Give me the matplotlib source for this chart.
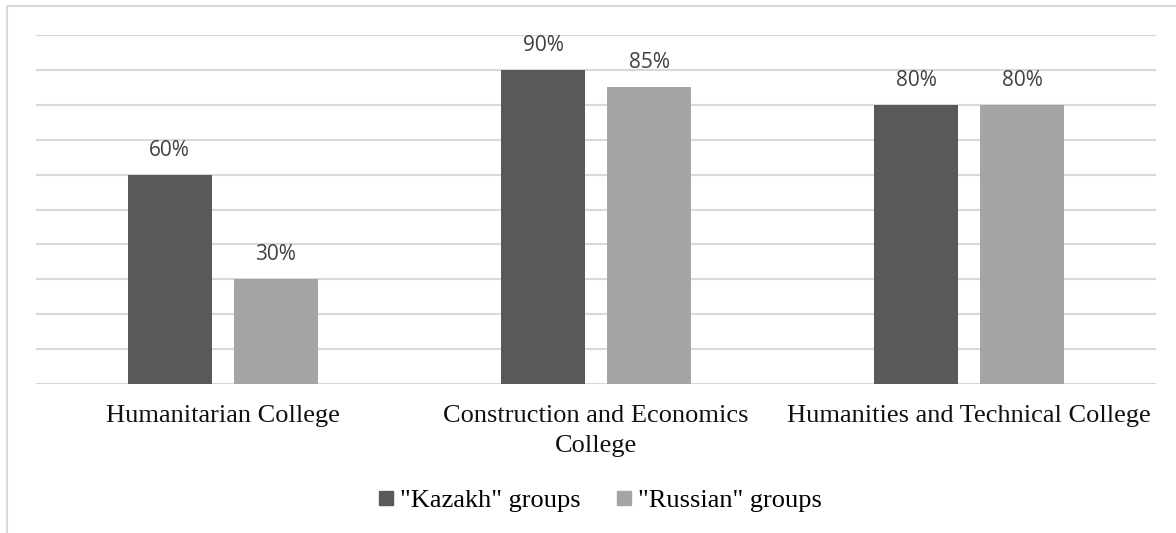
import matplotlib
matplotlib.use("Agg")
import matplotlib.pyplot as plt
from matplotlib.lines import Line2D
import numpy as np

categories = ["Humanitarian College", "Construction and Economics\nCollege", "Humanities and Technical College"]
series_names = ['"Kazakh" groups', '"Russian" groups']
kazakh = [60, 90, 80]
russian = [30, 85, 80]
colors = ["#595959", "#a5a5a5"]

W, H = 1176, 533
fig = plt.figure(figsize=(W / 100, H / 100), dpi=100)
ax = fig.add_axes([36 / W, 1 - 384 / H, (1156 - 36) / W, (384 - 35) / H])

x = np.arange(len(categories))
bw = 0.225
off = 0.142
b1 = ax.bar(x - off, kazakh, bw, color=colors[0], label=series_names[0], zorder=3)
b2 = ax.bar(x + off, russian, bw, color=colors[1], label=series_names[1], zorder=3)

for bars in (b1, b2):
    ax.bar_label(bars, labels=[f"{int(v)}%" for v in bars.datavalues], padding=10,
                 fontsize=15, color="#404040", family="Open Sans")

ax.set_xlim(-0.5, 2.5)
ax.set_ylim(0, 100)
ax.set_yticks(np.arange(0, 101, 10))
ax.yaxis.grid(True, color="#d9d9d9", linewidth=1.5, zorder=0)
ax.tick_params(axis="y", left=False, labelleft=False)
ax.tick_params(axis="x", length=0, pad=15)
ax.set_xticks(x)
ax.set_xticklabels(categories, fontsize=19, family="Liberation Serif", color="#111111", linespacing=1.5)
for s in ax.spines.values():
    s.set_visible(False)

handles = [Line2D([], [], marker="s", linestyle="none", markersize=10.5, color=c) for c in colors]
fig.legend(handles, series_names, loc="center", bbox_to_anchor=(600 / W, 1 - 500 / H), ncol=2,
           frameon=False, prop={"family": "Liberation Serif", "size": 19},
           handlelength=0.55, handletextpad=0.25, columnspacing=1.38, borderaxespad=0,
           borderpad=0)

# outer chart border (partially visible)
fig.add_artist(Line2D([6.5 / W, 6.5 / W], [0, 1 - 5.5 / H], transform=fig.transFigure, color="#d9d9d9", linewidth=1.5))
fig.add_artist(Line2D([6.5 / W, 1], [1 - 5.5 / H, 1 - 5.5 / H], transform=fig.transFigure, color="#d9d9d9", linewidth=1.5))

fig.savefig("out.png", dpi=100)
